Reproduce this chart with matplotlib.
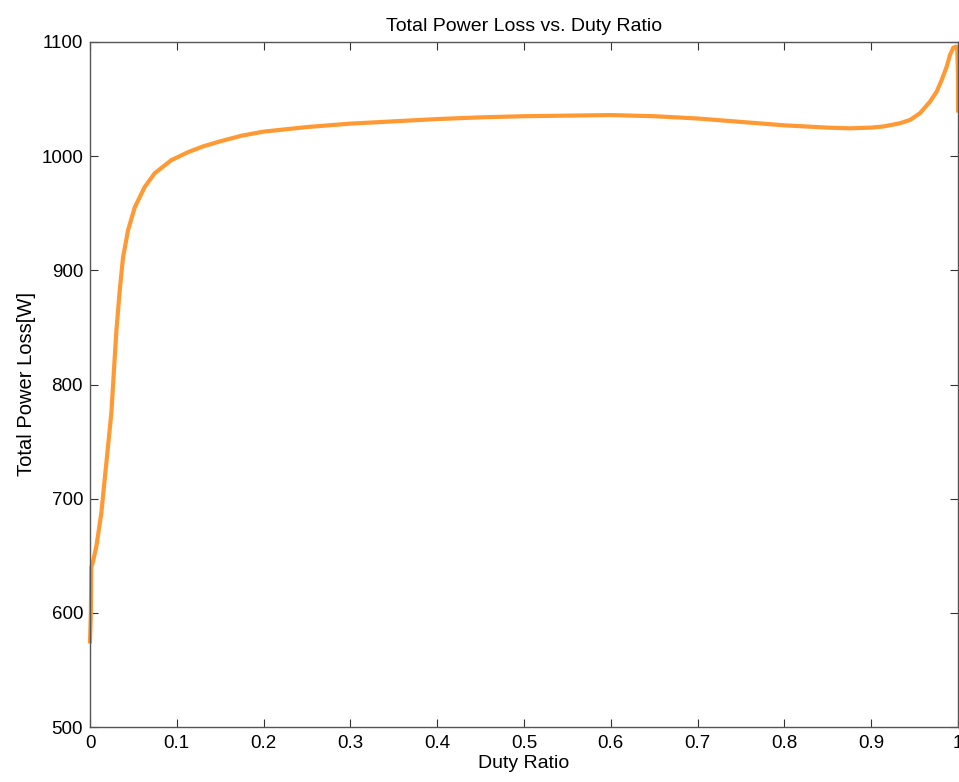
import matplotlib
matplotlib.use("Agg")
import matplotlib.pyplot as plt

duty = [0.0, 0.001, 0.0015, 0.0035, 0.0073, 0.013, 0.0188, 0.0246, 0.029, 0.0305,
        0.0342, 0.038, 0.0438, 0.0515, 0.063, 0.0745, 0.0937, 0.113, 0.13, 0.15,
        0.175, 0.2, 0.25, 0.3, 0.35, 0.4, 0.45, 0.5, 0.55, 0.6,
        0.65, 0.7, 0.75, 0.8, 0.85, 0.8756, 0.9, 0.914, 0.933, 0.9447,
        0.956, 0.9677, 0.9754, 0.9812, 0.987, 0.9908, 0.9946, 0.9977, 0.9992, 1.0, 1.0]
loss = [575, 600, 640, 645, 658, 687, 731, 775, 830, 848,
        882, 911, 935, 955, 973, 985, 996.5, 1003.5, 1008.5, 1013,
        1018, 1021.5, 1025.5, 1028.5, 1030.5, 1032.5, 1034, 1035, 1035.5, 1036,
        1035, 1033, 1030, 1027, 1025, 1024.4, 1025, 1026, 1028.8, 1031.7,
        1037.5, 1047.7, 1056.5, 1066.7, 1078.4, 1088.6, 1095, 1096, 1093, 1070, 1040]

xticks = [0, 0.1, 0.2, 0.3, 0.4, 0.5, 0.6, 0.7, 0.8, 0.9, 1]
xticklabels = ["0", "0.1", "0.2", "0.3", "0.4", "0.5", "0.6", "0.7", "0.8", "0.9", "1"]
yticks = [500, 600, 700, 800, 900, 1000, 1100]

plt.rcParams['font.family'] = ['Liberation Sans', 'DejaVu Sans']

fig = plt.figure(figsize=(9.59, 7.82), dpi=100)
ax = fig.add_axes([90/959, 55/782, 868/959, 685/782])
ax.plot(duty, loss, color='#FF9933', lw=3.0, solid_joinstyle='round', clip_on=False)
ax.set_xlim(0, 1)
ax.set_ylim(500, 1100)
ax.set_xticks(xticks)
ax.set_xticklabels(xticklabels)
ax.set_yticks(yticks)
ax.tick_params(direction='in', length=6, width=0.8, top=True, right=True,
               labelsize=13.5, colors='#333333', labelcolor='black')
ax.tick_params(axis='x', pad=6)
ax.tick_params(axis='y', pad=5)
for s in ax.spines.values():
    s.set_color('#555555')
    s.set_linewidth(1.0)
ax.set_title('Total Power Loss vs. Duty Ratio', fontsize=14, pad=8)
ax.set_xlabel('Duty Ratio', fontsize=14, labelpad=2)
ax.set_ylabel('Total Power Loss[W]', fontsize=14.5, labelpad=4)
fig.savefig('out.png', dpi=100)
